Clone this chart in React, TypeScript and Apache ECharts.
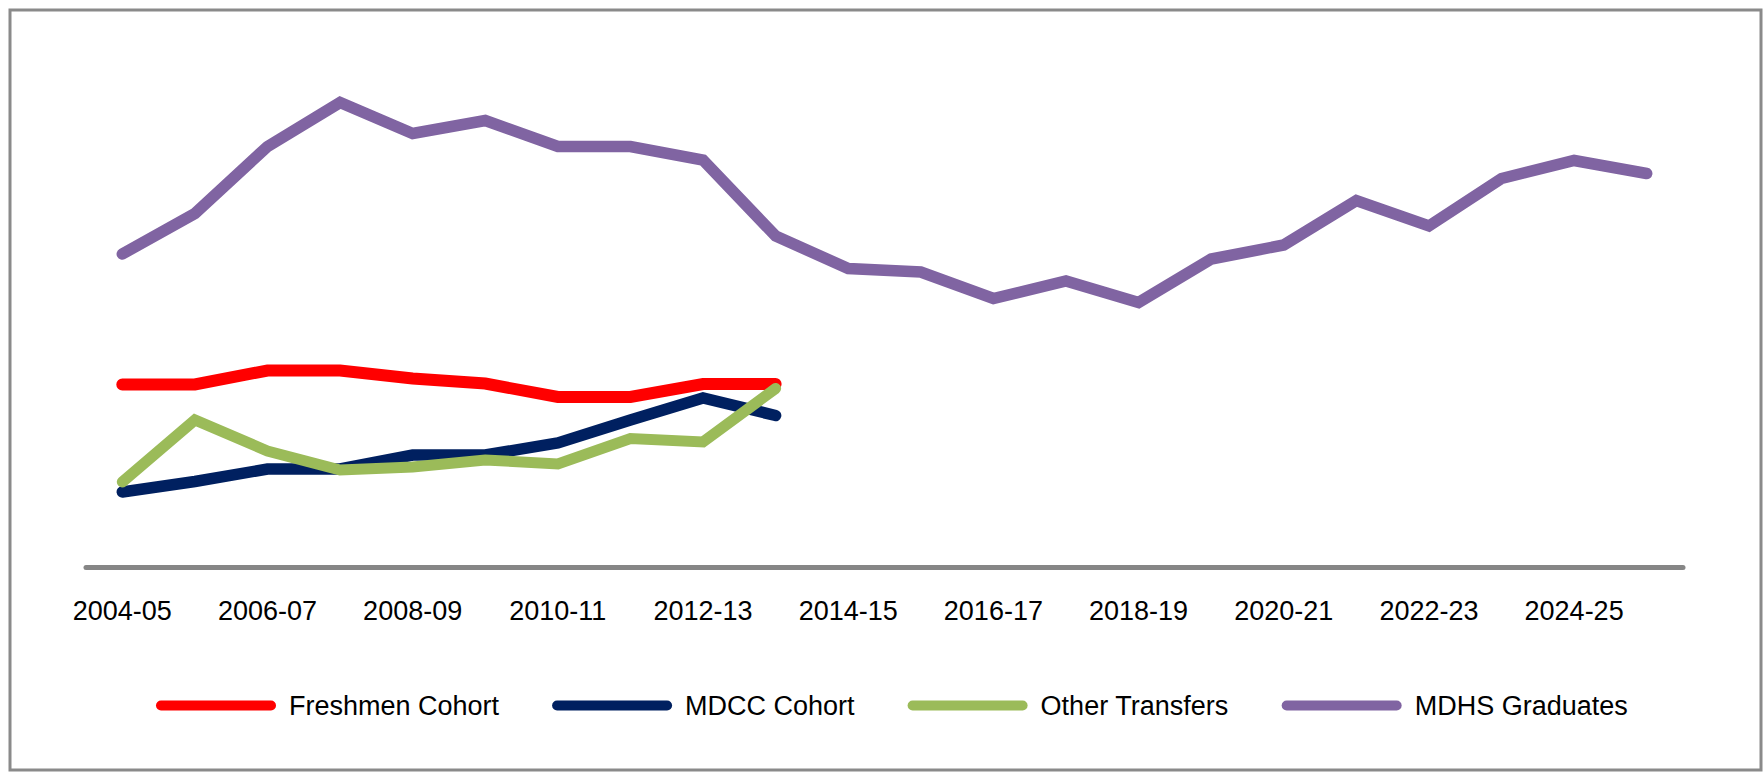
import React, { useEffect, useRef } from "react";
import * as echarts from "echarts";

const categories = [
  "2004-05", "2005-06", "2006-07", "2007-08", "2008-09", "2009-10", "2010-11",
  "2011-12", "2012-13", "2013-14", "2014-15", "2015-16", "2016-17", "2017-18",
  "2018-19", "2019-20", "2020-21", "2021-22", "2022-23", "2023-24", "2024-25", "2025-26",
];

const freshmenCohort = [36.5, 36.5, 39.3, 39.3, 37.7, 36.7, 34.0, 34.0, 36.6, 36.6];
const mdccCohort = [15.0, 17.1, 19.6, 19.6, 22.4, 22.4, 24.8, 29.4, 33.8, 30.3];
const otherTransfers = [17.0, 29.4, 23.2, 19.4, 20.0, 21.4, 20.6, 25.7, 25.0, 35.7];
const mdhsGraduates = [
  62.6, 70.7, 84.1, 92.9, 86.7, 89.3, 84.1, 84.1, 81.4, 66.2, 59.7,
  59.0, 53.7, 57.2, 52.9, 61.6, 64.4, 73.3, 68.2, 77.7, 81.3, 78.7,
];

const seriesNames = ["Freshmen Cohort", "MDCC Cohort", "Other Transfers", "MDHS Graduates"];
const seriesColors = ["#FF0000", "#002060", "#9BBB59", "#8064A2"];
const seriesWidths = [12, 11.5, 11, 11.5];
const seriesData = [freshmenCohort, mdccCohort, otherTransfers, mdhsGraduates];

const FONT = "'Liberation Sans', Arial, sans-serif";

export default function App() {
  const ref = useRef<HTMLDivElement>(null);

  useEffect(() => {
    if (!ref.current) return;
    const chart = echarts.init(ref.current, null, { renderer: "svg" });
    chart.setOption({
      animation: false,
      backgroundColor: "#ffffff",
      grid: { left: 86, right: 80, top: 67, bottom: 205, containLabel: false },
      xAxis: {
        type: "category",
        data: categories,
        boundaryGap: true,
        axisLine: { show: true, lineStyle: { color: "#868686", width: 5 } },
        axisTick: { show: false },
        axisLabel: {
          interval: 1,
          margin: 30,
          fontSize: 27,
          color: "#000000",
          fontFamily: FONT,
        },
        splitLine: { show: false },
      },
      yAxis: {
        type: "value",
        min: 0,
        max: 100,
        show: false,
        splitLine: { show: false },
      },
      legend: {
        data: seriesNames,
        left: 151,
        top: 687,
        itemWidth: 120,
        itemHeight: 10,
        itemGap: 53,
        icon: "path://M5,0 H115 A5,5 0 0 1 115,10 H5 A5,5 0 0 1 5,0 Z",
        textStyle: {
          fontSize: 27,
          color: "#000000",
          fontFamily: FONT,
          padding: [0, 0, 0, 8],
        },
      },
      graphic: [
        {
          type: "rect",
          shape: { x: 10, y: 10, width: 1751, height: 760 },
          style: { fill: "none", stroke: "#8a8a8a", lineWidth: 3 },
          silent: true,
          z: 100,
        },
      ],
      series: seriesData.map((d, i) => ({
        name: seriesNames[i],
        type: "line",
        data: d,
        showSymbol: false,
        symbol: "none",
        color: seriesColors[i],
        lineStyle: {
          color: seriesColors[i],
          width: seriesWidths[i],
          cap: "round",
          join: "miter",
        },
        z: 2 + i,
      })),
    });
    return () => chart.dispose();
  }, []);

  return (
    <div
      ref={ref}
      style={{ position: "fixed", left: 0, top: 0, width: 1763, height: 772 }}
    />
  );
}
